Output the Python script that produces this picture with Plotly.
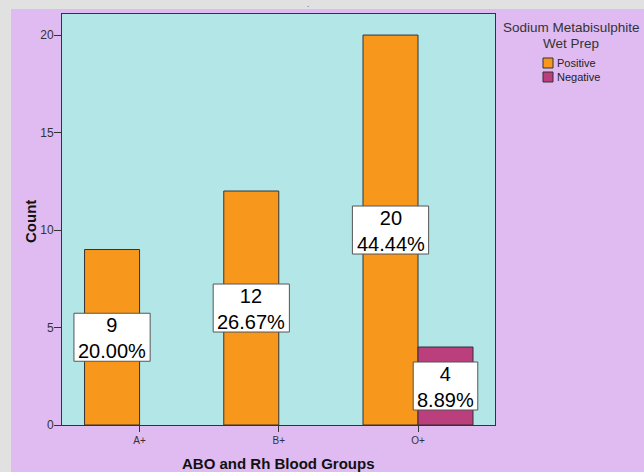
import plotly.graph_objects as go

# ---- data ----
groups = ["A+", "B+", "O+"]
positive = [9, 12, 20]
negative = [0, 0, 4]
series_names = ["Positive", "Negative"]
series_values = [positive, negative]
colors = ["#F7981D", "#BC3F7D"]
y_ticks = [0, 5, 10, 15, 20]
legend_title = ["Sodium Metabisulphite", "Wet Prep"]

# ---- layout geometry (pixels) ----
W, H = 644, 472
L, R, T, B = 62, 149, 14, 47
pw = W - L - R
ph = H - T - B


def px_x(x):
    return (x - L) / pw


def px_y(y):
    return (H - B - y) / ph


# approximate Arial/Liberation advance widths (em) for label box sizing
CHAR_EM = {**{d: 0.556 for d in "0123456789"}, ".": 0.278, "%": 0.889}


def text_em(s):
    return sum(CHAR_EM.get(c, 0.556) for c in s)


total = sum(positive) + sum(negative)
bar_w = 0.395

fig = go.Figure()
for name, vals, col in zip(series_names, series_values, colors):
    fig.add_bar(
        x=groups, y=vals, name=name,
        marker=dict(color=col,
                    line=dict(color="#333333", width=[1 if v > 0 else 0 for v in vals])),
    )

LBL_FONT = 20
annotations = []
shapes = []
for j, vals in enumerate(series_values):
    for i, v in enumerate(vals):
        if v <= 0:
            continue
        xc = i + (j - 0.5) * bar_w
        pct = f"{v / total * 100:.2f}%"
        half_w = (max(text_em(pct), text_em(str(v))) * 21 + 5) / 2
        shapes.append(dict(
            type="rect", xref="x", yref="y", xsizemode="pixel", ysizemode="pixel",
            xanchor=xc, yanchor=v / 2, x0=-half_w, x1=half_w, y0=-24, y1=24,
            fillcolor="#FFFFFF", line=dict(color="#555555", width=1), layer="above"))
        annotations.append(dict(
            x=xc, y=v / 2, xref="x", yref="y", text=f"{v}<br>{pct}", showarrow=False,
            font=dict(size=LBL_FONT, color="#000000", family="Liberation Sans"),
            align="center", yshift=-1,
        ))

# axis titles
annotations.append(dict(
    x=0.5, y=px_y(463), xref="paper", yref="paper", text="<b>ABO and Rh Blood Groups</b>",
    showarrow=False, font=dict(size=15, color="#111111", family="Liberation Sans"),
    xanchor="center", yanchor="middle"))
annotations.append(dict(
    x=px_x(30), y=px_y(222), xref="paper", yref="paper", text="<b>Count</b>", textangle=-90,
    showarrow=False, font=dict(size=15, color="#111111", family="Liberation Sans"),
    xanchor="center", yanchor="middle"))
# legend title (two lines)
for k, line in enumerate(legend_title):
    annotations.append(dict(
        x=px_x(571), y=px_y(28 + 15 * k), xref="paper", yref="paper",
        text=line, showarrow=False,
        font=dict(size=13.5, color="#333333", family="Liberation Sans"),
        xanchor="center", yanchor="middle"))

shapes += [
    dict(type="rect", xref="paper", yref="paper", x0=px_x(0), x1=px_x(11),
         y0=px_y(H), y1=px_y(0), fillcolor="#E1E1E1", line=dict(width=0), layer="below"),
    dict(type="rect", xref="paper", yref="paper", x0=px_x(0), x1=px_x(W),
         y0=px_y(9), y1=px_y(0), fillcolor="#E1E1E1", line=dict(width=0), layer="below"),
]

# manual legend: swatches + labels
for k, (name, col) in enumerate(zip(series_names, colors)):
    yc = 63 + 14 * k
    shapes.append(dict(
        type="rect", xref="paper", yref="paper",
        x0=px_x(543), x1=px_x(553), y0=px_y(yc + 5), y1=px_y(yc - 5),
        fillcolor=col, line=dict(color="#333333", width=1), layer="above"))
    annotations.append(dict(
        x=px_x(555), y=px_y(yc), xref="paper", yref="paper", text=name,
        showarrow=False, font=dict(size=11, color="#222222", family="Liberation Sans"),
        xanchor="left", yanchor="middle"))

# small dot at top
annotations.append(dict(
    x=px_x(308), y=px_y(11), xref="paper", yref="paper", text=".", showarrow=False,
    font=dict(size=8, color="#333333"), xanchor="center", yanchor="bottom"))

fig.update_layout(
    width=W, height=H,
    margin=dict(l=L, r=R, t=T, b=B, pad=0),
    paper_bgcolor="#DFBBF1",
    plot_bgcolor="#B3E6E7",
    barmode="group",
    bargap=1 - 2 * bar_w,
    bargroupgap=0,
    font=dict(family="Liberation Sans", color="#333333"),
    showlegend=False,
    annotations=annotations,
    shapes=shapes,
)
fig.update_xaxes(
    range=[-0.557, 2.553], showgrid=False, zeroline=False,
    showline=True, linecolor="#333333", linewidth=1, mirror=True,
    ticks="outside", ticklen=6, tickcolor="#333333",
    tickfont=dict(size=10, color="#333333"),
)
fig.update_yaxes(
    range=[0, 21.08], tickvals=y_ticks, showgrid=False, zeroline=False,
    showline=True, linecolor="#333333", linewidth=1, mirror=True,
    ticks="outside", ticklen=7, tickcolor="#333333",
    tickfont=dict(size=12, color="#333333"), ticklabelstandoff=-2,
)

fig.write_html("out.html", config={"displayModeBar": False},
               post_script="document.body.style.margin='0';")
